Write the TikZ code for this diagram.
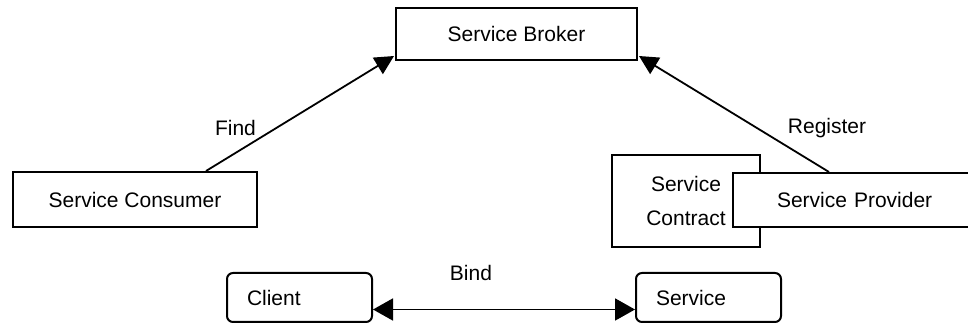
\documentclass[tikz,border=0pt]{standalone}
\usepackage{fontspec}
\setmainfont{Liberation Sans}
\usetikzlibrary{arrows.meta}
\begin{document}
\begin{tikzpicture}[x=0.5pt,y=-0.5pt,
  every node/.style={font=\fontsize{10.5}{17}\selectfont},
  box/.style={draw,line width=1pt,fill=white,rectangle,inner sep=0pt},
  rbox/.style={box,rounded corners=3pt},
  arr/.style={line width=0.9pt,-{Triangle[length=9.5pt,width=9.5pt]}},
  lbl/.style={inner sep=0pt}]
\useasboundingbox (0,0) rectangle (968,325);
\node[box,minimum width=120.5pt,minimum height=26pt] (broker) at (516.5,34) {Service Broker};
\node[box,minimum width=122pt,minimum height=27.5pt] (cons) at (135,199.5) {Service Consumer};
\node[box,minimum width=74pt,minimum height=46pt,align=center] (contract) at (686,201) {Service\\Contract};
\node[box,minimum width=126pt,minimum height=27pt,text width=82pt,inner xsep=22pt,align=left] (prov) at (859,200) {Service Provider};
\node[rbox,minimum width=72.5pt,minimum height=24.5pt,text width=52.5pt,inner xsep=10pt,align=left] (client) at (299.5,297.5) {Client};
\node[rbox,minimum width=72.5pt,minimum height=24.5pt,text width=52.5pt,inner xsep=10pt,align=left] (service) at (708.5,297.5) {Service};
\draw[arr] ([xshift=-26pt]cons.north east) -- ([xshift=-0.5pt,yshift=2.5pt]broker.south west);
\draw[arr] ([xshift=48.5pt]prov.north west) -- ([xshift=0.5pt,yshift=2.5pt]broker.south east);
\draw[line width=0.9pt,{Triangle[length=10pt,width=11pt]}-{Triangle[length=10pt,width=11pt]}] ([yshift=-6pt]client.east) -- ([yshift=-6pt]service.west);
\node[lbl] (find) at (235.5,128) {Find};
\node[lbl] (reg) at (827,128) {Register};
\node[lbl] (bind) at (471,273) {Bind};
\end{tikzpicture}
\end{document}
